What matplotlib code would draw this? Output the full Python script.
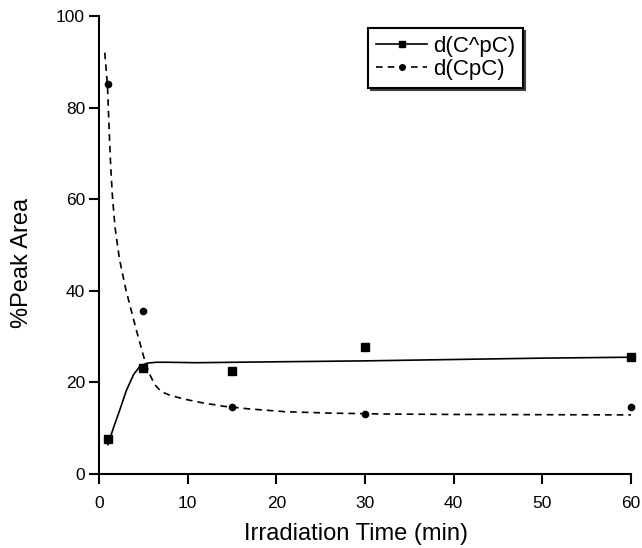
import matplotlib.pyplot as plt

# measured points
times = [1, 5, 15, 30, 60]
cpc_hat = [7.7, 23.1, 22.5, 27.7, 25.5]      # d(C^pC)
cpc = [85.1, 35.6, 14.6, 13.2, 14.6]          # d(CpC)

# fitted curves
fit_hat_x = [1.0, 1.6, 2.4, 3.1, 3.9, 4.6, 5.4, 6.5, 7.6, 11, 20, 30, 40, 50, 60]
fit_hat_y = [6.4, 9.9, 14.3, 18.3, 21.7, 23.5, 24.2, 24.4, 24.4, 24.3, 24.5, 24.7, 25.0, 25.3, 25.5]
fit_x = [0.65, 0.95, 1.15, 1.3, 1.5, 1.8, 2.3, 3.0, 3.6, 4.2, 4.7, 5.2, 5.7, 6.3,
         7.0, 8.0, 9.5, 11.5, 14, 17, 21, 26, 32, 40, 50, 60]
fit_y = [92, 85, 75, 68, 61, 54, 47, 40.5, 36, 31.5, 28, 24.5, 21.8, 19.5,
         18.0, 17.2, 16.4, 15.6, 14.8, 14.2, 13.6, 13.3, 13.1, 13.0, 12.95, 12.9]

xticks = [0, 10, 20, 30, 40, 50, 60]
yticks = [0, 20, 40, 60, 80, 100]

plt.rcParams['font.family'] = ['Liberation Sans', 'DejaVu Sans']

fig = plt.figure(figsize=(6.42, 5.48), dpi=100)
ax = fig.add_axes([99 / 642, 1 - 474 / 548, 532 / 642, 458 / 548])

ax.plot(fit_hat_x, fit_hat_y, '-', color='black', lw=1.2)
ax.plot(fit_x, fit_y, '--', color='black', lw=1.2, dashes=(4, 3))
ax.plot(times, cpc_hat, 's', color='black', ms=6, clip_on=False)
ax.plot(times, cpc, 'o', color='black', ms=4.5, clip_on=False)

# legend handles
h1, = ax.plot([], [], '-s', color='black', lw=1.2, ms=5)
h2, = ax.plot([], [], '--o', color='black', lw=1.2, ms=4, dashes=(4, 3))
leg = ax.legend([h1, h2], ['d(C^pC)', 'd(CpC)'], loc='upper left',
                bbox_to_anchor=(0.506, 0.974), borderaxespad=0, fontsize=16,
                fancybox=False, edgecolor='black', handlelength=2.3,
                handletextpad=0.25, labelspacing=0.1, borderpad=0.35,
                shadow={'color': '0.25', 'alpha': 1})
leg.get_frame().set_linewidth(1.5)

ax.set_xlim(0, 60)
ax.set_ylim(0, 100)
ax.set_xticks(xticks)
ax.set_yticks(yticks)
ax.spines['top'].set_visible(False)
ax.spines['right'].set_visible(False)
for s in ('left', 'bottom'):
    ax.spines[s].set_linewidth(1.5)
ax.tick_params(direction='out', length=7, width=1.5, labelsize=12.5)
ax.tick_params(axis='x', pad=9)
ax.tick_params(axis='y', pad=3)

ax.set_xlabel('Irradiation Time (min)', fontsize=17)
ax.set_ylabel('%Peak Area', fontsize=17)
ax.xaxis.set_label_coords(0.483, -0.107)
ax.yaxis.set_label_coords(-0.124, 0.46)

fig.savefig('out.png', dpi=100)
